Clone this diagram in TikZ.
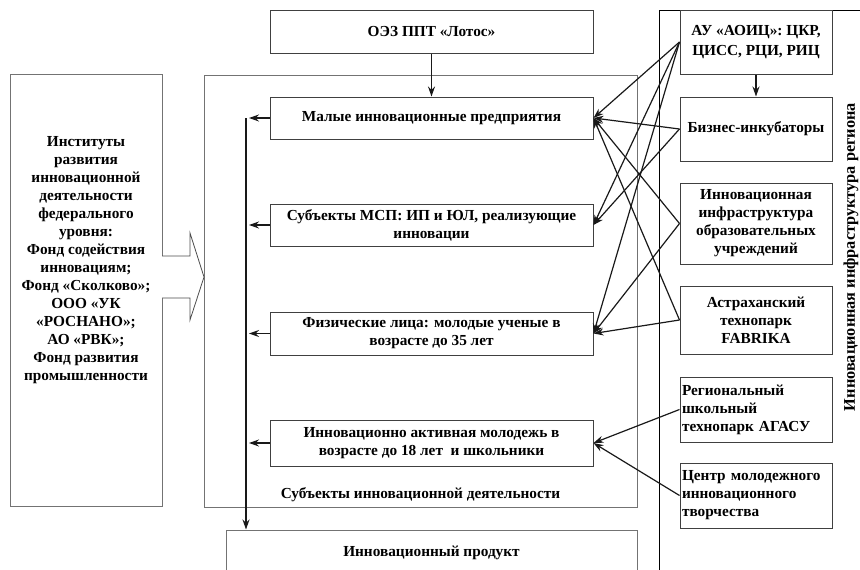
\documentclass[tikz,border=0pt]{standalone}
\usepackage{fontspec}
\setmainfont{Liberation Serif}
\usetikzlibrary{arrows.meta}
\newcommand\dfont{\fontsize{15.3}{18}\selectfont\bfseries}
\begin{document}
\begin{tikzpicture}[x=1pt,y=-1pt,
  box/.style={draw=black!75, line width=1pt, rectangle, inner sep=1pt, align=center, font=\dfont},
  graybox/.style={draw=black!55, line width=1pt, rectangle, inner sep=0pt},
  lbl/.style={font=\dfont, align=center, inner sep=0pt},
  arr/.style={draw=black!90, line width=1.2pt, -{Stealth[length=10pt,width=7pt]}},
]
\useasboundingbox (0,0) rectangle (860,570);
\clip (0,0) rectangle (860,570);

% central frame
\node[graybox, minimum width=433pt, minimum height=432pt] (frame) at (420.5,291) {};
\node[lbl] (framelbl) at (420.5,495) {Субъекты инновационной деятельности};

% left box
\node[graybox, minimum width=152pt, minimum height=432pt] (left) at (86,290) {};
\node[lbl] (lefttext) at (86,260) {Институты\\развития\\инновационной\\деятельности\\федерального\\уровня:\\Фонд содействия\\инновациям;\\Фонд «Сколково»;\\ООО «УК\\«РОСНАНО»;\\АО «РВК»;\\Фонд развития\\промышленности};

% block arrow
\draw[draw=black!70, line width=0.8pt, fill=white]
  (162,256) -- (190,256) -- (190,233) -- (204,277) -- (190,320) -- (190,298) -- (162,298);

% top box
\node[box, minimum width=323pt, minimum height=43pt] (lotos) at (431.5,31.5) {ОЭЗ ППТ «Лотос»};

% subject boxes
\node[box, minimum width=323pt, minimum height=42pt] (malye) at (431.5,118) {Малые инновационные предприятия};
\node[box, minimum width=323pt, minimum height=42pt] (msp) at (431.5,225) {Субъекты МСП: ИП и ЮЛ, реализующие\\инновации};
\node[box, minimum width=323pt, minimum height=43pt] (fiz) at (431.5,333.5) {Физические лица: молодые ученые в\\возрасте до 35 лет};
\node[box, minimum width=323pt, minimum height=46pt] (molod) at (431.5,443) {Инновационно активная молодежь в\\возрасте до 18 лет\ \ и школьники};

% product box
\node[graybox, minimum width=411pt, minimum height=46pt, font=\dfont] (prod) at (431.5,553) {Инновационный продукт};

% right frame
\draw[line width=1pt] (659,575) -- (659,10) -- (865,10);
\node[lbl, rotate=90, font=\fontsize{16.3}{18}\selectfont\bfseries] (rlabel) at (851,257) {Инновационная инфраструктура региона};

% right boxes
\node[box, minimum width=152pt, minimum height=64pt] (au) at (756,42) {АУ «АОИЦ»: ЦКР,\\[2pt]ЦИСС, РЦИ, РИЦ};
\node[box, minimum width=152pt, minimum height=64pt] (biz) at (756,129) {Бизнес-инкубаторы};
\node[box, minimum width=152pt, minimum height=81pt] (infra) at (756,223.5) {Инновационная\\инфраструктура\\образовательных\\учреждений};
\node[box, minimum width=152pt, minimum height=68pt] (astr) at (756,320) {Астраханский\\технопарк\\FABRIKA};
\node[box, minimum width=152pt, minimum height=65pt, align=left, text width=148pt] (reg) at (756,409.5) {Региональный\\школьный\\технопарк АГАСУ};
\node[box, minimum width=152pt, minimum height=65pt, align=left, text width=148pt] (cent) at (756,495.5) {Центр молодежного\\инновационного\\творчества};

% left collecting line
\coordinate (vtop) at (246,118);
\coordinate (t1) at (249,118);
\coordinate (t2) at (249,225);
\coordinate (t3) at (249,333.5);
\coordinate (t4) at (249,443);
\draw[arr] (malye.west) -- (t1);
\draw[arr] (msp.west) -- (t2);
\draw[arr] (fiz.west) -- (t3);
\draw[arr] (molod.west) -- (t4);
\draw[arr] (vtop) -- (vtop |- prod.north);

% vertical arrows
\draw[arr] (lotos.south) -- (malye.north);
\draw[arr] (au.south) -- (biz.north);

% fan connectors
\draw[arr] (au.west) -- (malye.east);
\draw[arr] (au.west) -- (msp.east);
\draw[arr] (au.west) -- (fiz.east);
\draw[arr] (biz.west) -- (malye.east);
\draw[arr] (biz.west) -- (msp.east);
\draw[arr] (infra.west) -- (malye.east);
\draw[arr] (infra.west) -- (fiz.east);
\draw[arr] (astr.west) -- (malye.east);
\draw[arr] (astr.west) -- (fiz.east);
\draw[arr] (reg.west) -- (molod.east);
\draw[arr] (cent.west) -- (molod.east);
\end{tikzpicture}
\end{document}
